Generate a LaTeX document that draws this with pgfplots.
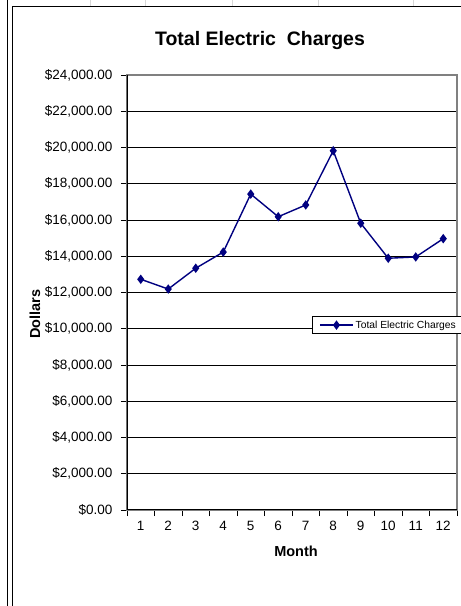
\documentclass[border=0pt]{standalone}
\usepackage{pgfplots}
\pgfplotsset{compat=1.18}
\usepackage{fontspec}
\setmainfont{Liberation Sans}
\definecolor{navy}{RGB}{0,0,128}
\definecolor{bordergray}{RGB}{128,128,128}
\definecolor{sheetgray}{RGB}{215,215,215}
\begin{document}
\begin{tikzpicture}
\useasboundingbox (0pt,0pt) rectangle (461pt,606pt);
\clip (0pt,0pt) rectangle (461pt,606pt);
\fill[white] (0pt,0pt) rectangle (461pt,606pt);
\foreach \xx in {90,145,232,318,413}{\draw[sheetgray] (\xx pt,599.5pt) -- (\xx pt,606pt);}
\draw[black, line width=0.9pt] (7.5pt,0pt) -- (7.5pt,606pt);
\draw[black, line width=0.9pt] (12pt,0pt) -- (12pt,599.5pt) -- (461pt,599.5pt);
\begin{axis}[
  at={(127pt,96pt)}, anchor=south west,
  scale only axis, width=330pt, height=435pt,
  xmin=0.5, xmax=12.5, ymin=0, ymax=24000,
  scaled y ticks=false,
  axis line style={bordergray, line width=1.2pt},
  xtick pos=bottom, ytick pos=left,
  xtick={0.5,1.5,...,12.5}, xticklabels={},
  extra x ticks={1,2,...,12},
  extra x tick labels={1,2,3,4,5,6,7,8,9,10,11,12},
  extra x tick style={major tick length=0pt, grid=none},
  ytick={0,2000,...,24000},
  yticklabels={\$0.00,{\$2,000.00},{\$4,000.00},{\$6,000.00},{\$8,000.00},{\$10,000.00},{\$12,000.00},{\$14,000.00},{\$16,000.00},{\$18,000.00},{\$20,000.00},{\$22,000.00},{\$24,000.00}},
  tick align=outside, major tick length=6pt,
  tick style={black, line width=0.8pt},
  ymajorgrids, grid style={black, line width=0.9pt},
  ticklabel style={font=\fontsize{13.5}{15}\selectfont},
  xticklabel style={yshift=-8pt},
  yticklabel style={xshift=-5pt},
  legend style={at={(0.5606,0.425)}, anchor=west, draw=black, line width=0.6pt,
    font=\fontsize{10.3}{12}\selectfont, inner xsep=7pt, inner ysep=2pt,
    legend cell align=left},
  legend image code/.code={\draw[mark repeat=2,mark phase=2,#1] plot coordinates {(0pt,0pt) (16.5pt,0pt) (33pt,0pt)};},
]
\addplot[navy, line width=1.4pt, mark=diamond*, mark size=3.6pt, mark options={solid, fill=navy}]
  coordinates {(1,12730) (2,12190) (3,13340) (4,14230) (5,17430) (6,16180) (7,16830) (8,19820) (9,15820) (10,13890) (11,13960) (12,14970)};
\addlegendentry{Total Electric Charges}
\draw[black, line width=1.2pt] (rel axis cs:0,1) -- (rel axis cs:0,0) -- (rel axis cs:1,0);
\end{axis}
\node[anchor=base, font=\bfseries\fontsize{19.5}{22}\selectfont] at (260pt,560pt) {Total Electric\ \ Charges};
\node[rotate=90, font=\bfseries\fontsize{14.5}{16}\selectfont] at (35pt,292pt) {Dollars};
\node[font=\bfseries\fontsize{14.5}{16}\selectfont] at (296pt,55pt) {Month};
\end{tikzpicture}
\end{document}
